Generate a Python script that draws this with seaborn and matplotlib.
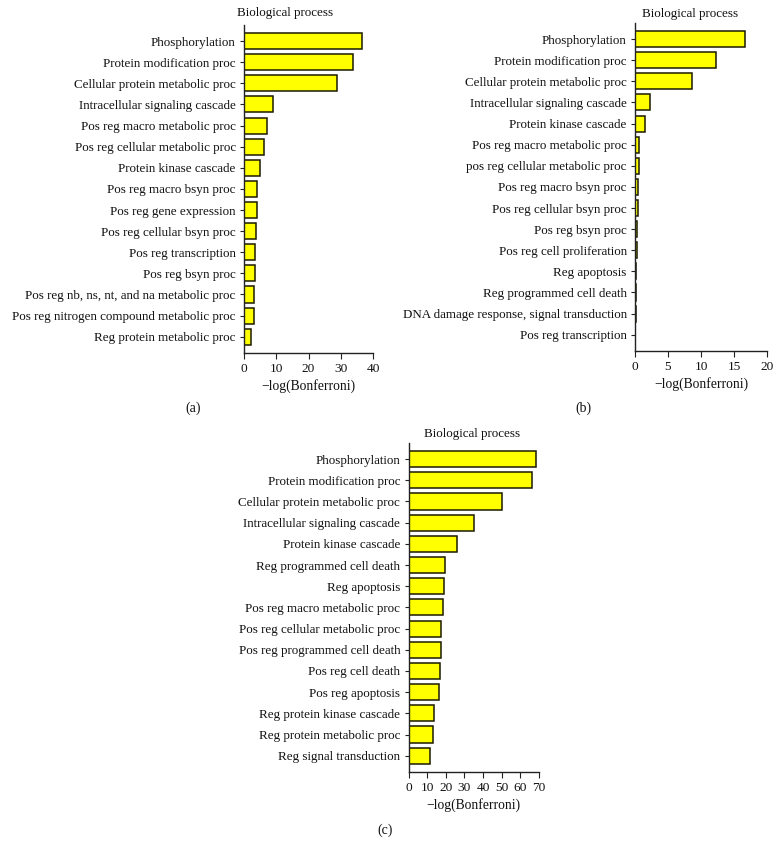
import matplotlib
matplotlib.use("Agg")
import matplotlib.pyplot as plt
import seaborn as sns
import pandas as pd

sns.set_theme(style="white")
plt.rcParams['font.family'] = ['Liberation Serif', 'DejaVu Serif']

# ---------------- data ----------------
labels_a = ["Phosphorylation", "Protein modification proc", "Cellular protein metabolic proc",
            "Intracellular signaling cascade", "Pos reg macro metabolic proc",
            "Pos reg cellular metabolic proc", "Protein kinase cascade", "Pos reg macro bsyn proc",
            "Pos reg gene expression", "Pos reg cellular bsyn proc", "Pos reg transcription",
            "Pos reg bsyn proc", "Pos reg nb, ns, nt, and na metabolic proc",
            "Pos reg nitrogen compound metabolic proc", "Reg protein metabolic proc"]
values_a = [36.6, 33.9, 28.9, 8.9, 7.1, 6.1, 4.9, 4.0, 3.9, 3.6, 3.4, 3.4, 3.2, 3.0, 2.1]

labels_b = ["Phosphorylation", "Protein modification proc", "Cellular protein metabolic proc",
            "Intracellular signaling cascade", "Protein kinase cascade",
            "Pos reg macro metabolic proc", "pos reg cellular metabolic proc",
            "Pos reg macro bsyn proc", "Pos reg cellular bsyn proc", "Pos reg bsyn proc",
            "Pos reg cell proliferation", "Reg apoptosis", "Reg programmed cell death",
            "DNA damage response, signal transduction", "Pos reg transcription"]
values_b = [16.6, 12.2, 8.7, 2.2, 1.5, 0.66, 0.6, 0.45, 0.38, 0.36, 0.35, 0.12, 0.11, 0.08, 0.06]

labels_c = ["Phosphorylation", "Protein modification proc", "Cellular protein metabolic proc",
            "Intracellular signaling cascade", "Protein kinase cascade",
            "Reg programmed cell death", "Reg apoptosis", "Pos reg macro metabolic proc",
            "Pos reg cellular metabolic proc", "Pos reg programmed cell death",
            "Pos reg cell death", "Pos reg apoptosis", "Reg protein kinase cascade",
            "Reg protein metabolic proc", "Reg signal transduction"]
values_c = [68.4, 66.4, 50.3, 35.0, 25.9, 19.5, 19.3, 18.4, 17.7, 17.2, 17.0, 16.6, 13.8, 12.9, 11.7]

xticks_a = [0, 10, 20, 30, 40]
xticks_b = [0, 5, 10, 15, 20]
xticks_c = [0, 10, 20, 30, 40, 50, 60, 70]

W, H = 780, 844
fig = plt.figure(figsize=(W / 100, H / 100), dpi=100)


def px_axes(left, top, right, bottom):
    return fig.add_axes([left / W, 1 - bottom / H, (right - left) / W, (bottom - top) / H])


def panel(ax, labels, values, xticks, title_xy, caption, cap_xy):
    df = pd.DataFrame({"term": labels, "value": values})
    sns.barplot(data=df, x="value", y="term", orient="h", color="#FFFF00",
                edgecolor="#1a1a00", linewidth=1.1, width=0.76, saturation=1, ax=ax)
    ax.set_xlim(xticks[0], xticks[-1])
    ax.set_ylim(len(labels) - 0.23, -0.76)
    ax.set_xticks(xticks)
    ax.set_ylabel("")
    ax.set_xlabel("\u2212log(Bonferroni)", fontsize=9.8, labelpad=3, color="#111111")
    for s in ["top", "right"]:
        ax.spines[s].set_visible(False)
    for s in ["left", "bottom"]:
        ax.spines[s].set_color("#222222")
        ax.spines[s].set_linewidth(1.0)
    ax.tick_params(axis="y", length=3, width=0.8, pad=3, labelsize=9.4, colors="#222222", left=True,
                   labelcolor="#111111")
    ax.tick_params(axis="x", length=4, width=0.8, pad=3, labelsize=9.6, colors="#222222", bottom=True,
                   labelcolor="#111111")
    fig.text(title_xy[0] / W, 1 - title_xy[1] / H, "Biological process", ha="center",
             va="center", fontsize=9.4, color="#111111")
    fig.text(cap_xy[0] / W, 1 - cap_xy[1] / H, caption, ha="center", va="center",
             fontsize=10, color="#111111")


ax_a = px_axes(244, 25, 373, 353)
panel(ax_a, labels_a, values_a, xticks_a, (285, 13), "(a)", (193, 408))

ax_b = px_axes(635, 23, 767, 351)
panel(ax_b, labels_b, values_b, xticks_b, (690, 14), "(b)", (583, 408))

ax_c = px_axes(408.5, 443, 539, 772)
panel(ax_c, labels_c, values_c, xticks_c, (472, 434), "(c)", (385, 830))

fig.savefig("out.png", dpi=100)
